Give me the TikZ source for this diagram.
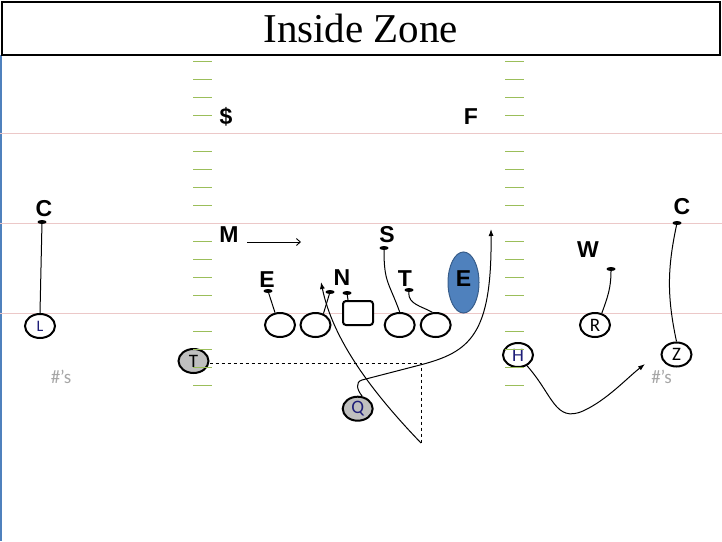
\documentclass[tikz,border=0pt]{standalone}
\usepackage{fontspec}
\setmainfont{Liberation Serif}
\newfontfamily\deffont{Liberation Sans}
\newfontfamily\plfont{Carlito}
\usetikzlibrary{arrows.meta,shapes.geometric}

\definecolor{hashgreen}{RGB}{155,190,90}
\definecolor{yardpink}{RGB}{236,200,200}
\definecolor{edgeblue}{RGB}{79,129,189}
\definecolor{endblue}{RGB}{79,129,189}
\definecolor{endborder}{RGB}{56,93,138}
\definecolor{backgray}{RGB}{191,191,191}
\definecolor{numgray}{RGB}{166,166,166}
\definecolor{labnavy}{RGB}{30,30,120}

\begin{document}
\begin{tikzpicture}[x=1pt,y=-1pt,
	lineman/.style={draw,ellipse,fill=white,line width=2pt,minimum width=30pt,minimum height=24pt,inner sep=0pt},
	skill/.style={lineman,font=\plfont\fontsize{19}{19}\selectfont},
	back/.style={skill,fill=backgray},
	defender/.style={font=\deffont\bfseries\fontsize{23}{23}\selectfont,inner sep=0pt},
	tech/.style={ellipse,fill=black,minimum width=9pt,minimum height=4pt,inner sep=0pt},
	assign/.style={line width=1pt},
	route/.style={line width=1pt,-{Latex[length=7pt,width=5pt]}},
	hashmark/.style={hashgreen,line width=1.2pt},
	numbers/.style={font=\plfont\fontsize{19}{19}\selectfont,text=numgray,inner sep=0pt}]
	\useasboundingbox (0,0) rectangle (722,541);
	% field
	\draw [edgeblue,line width=1.5pt] (0.75,55) -- (0.75,541);
	\foreach \y in {133,223,313}
		\draw [yardpink,line width=1pt] (0,\y) -- (722,\y);
	\node [draw,line width=2pt,minimum width=718.5pt,minimum height=53.5pt,inner sep=0pt,
		font=\fontsize{41}{41}\selectfont] (title) at (360.75,28.25) {Inside Zone};
	% defense
	\node [defender] (dol) at (226,117) {\$};
	\node [defender] (fs) at (471,117) {F};
	\node [defender] (cL) at (44,209) {C};
	\node [defender] (cR) at (682,207) {C};
	\node [defender] (mk) at (229,235) {M};
	\node [defender] (sk) at (387,235) {S};
	\node [defender] (wk) at (588,250) {W};
	\node [defender] (eL) at (267,280) {E};
	\node [defender] (nt) at (342,278) {N};
	\node [defender] (tk) at (405,279) {T};
	\node [ellipse,draw=endborder,fill=endblue,line width=1pt,minimum width=31pt,minimum height=61pt,inner sep=0pt] (eR) at (463.5,282.5) {};
	\node [defender] (eRt) at (463.5,279) {E};
	\node [tech] (dCL) at (42,222) {};
	\node [tech] (dCR) at (677,223) {};
	\node [tech] (dW) at (611,269) {};
	\node [tech] (dS) at (384,248) {};
	\node [tech] (dE) at (268,291) {};
	\node [tech] (dN1) at (330,292) {};
	\node [tech] (dN2) at (347,293) {};
	\node [tech] (dT) at (409,290) {};
	% offense
	\node [lineman] (lt) at (280,325) {};
	\node [lineman] (lg) at (315.5,325) {};
	\node [draw,fill=white,rounded corners=3pt,line width=2pt,minimum width=30pt,minimum height=24pt] (cn) at (358,313) {};
	\node [lineman] (rg) at (399.7,325) {};
	\node [lineman] (rt) at (435.7,325) {};
	\node [skill,font=\plfont\fontsize{16}{16}\selectfont,text=labnavy] (pL) at (40,326) {L};
	\node [skill] (pR) at (595,325) {R};
	\node [skill,text=labnavy] (pH) at (518,355) {H};
	\node [skill] (pZ) at (676.5,354.5) {Z};
	\node [back] (pT) at (193.5,361) {T};
	\node [back,text=labnavy] (pQ) at (357.7,408.7) {Q};
	\node [numbers] (numL) at (61,377) {\#’s};
	\node [numbers] (numR) at (661.5,377) {\#’s};
	% hash marks
	\foreach \y in {61.5,79.5,97.5,115.5,151.5,169.5,187.5,205.5,241.5,259.5,277.5,295.5,331.5,349.5,367.5,385.5} {
		\draw [hashmark] (193,\y) -- (212,\y);
		\draw [hashmark] (505,\y) -- (524,\y);
	}
	% blocks
	\draw [assign] (dCL) -- (pL.north);
	\draw [assign] (dCR) to[bend right=12] (pZ.north);
	\draw [assign] (dW) to[out=-90,in=70] (pR.60);
	\draw [assign] (dS) to[out=-90,in=110,looseness=1.3] (rg.north);
	\draw [assign] (dT) to[out=-95,in=150] (rt.105);
	\draw [assign] (lt.112) -- (dE);
	\draw [assign] (lg.55) -- (dN1);
	\draw [assign] ([xshift=-10pt]cn.north) -- (dN2);
	\coordinate (mStart) at (247,242);
	\coordinate (mEnd) at (301,242);
	\draw [line width=0.9pt,-{Straight Barb[length=4pt,width=7pt]}] (mStart) -- (mEnd);
	% backfield
	\coordinate (tCorner) at (421,363);
	\coordinate (tBottom) at (421,443);
	\coordinate (tEnd) at (321,282);
	\coordinate (qEnd) at (491,229);
	\coordinate (hEnd) at (645,364);
	\draw [dashed,line width=1pt] (pT.east |- tCorner) -- (tCorner) -- (tBottom);
	\draw [route] (tBottom) .. controls (372,392) and (333,340) .. (tEnd);
	\draw [route] (pQ.70) .. controls (357,390) and (355,382) .. (362,380) -- (420,365) .. controls (470,352) and (492,335) .. (qEnd);
	\draw [route] (pH.-50) .. controls (553,395) and (555,423) .. (583,411) .. controls (607,400) and (627,378) .. (hEnd);
\end{tikzpicture}
\end{document}
